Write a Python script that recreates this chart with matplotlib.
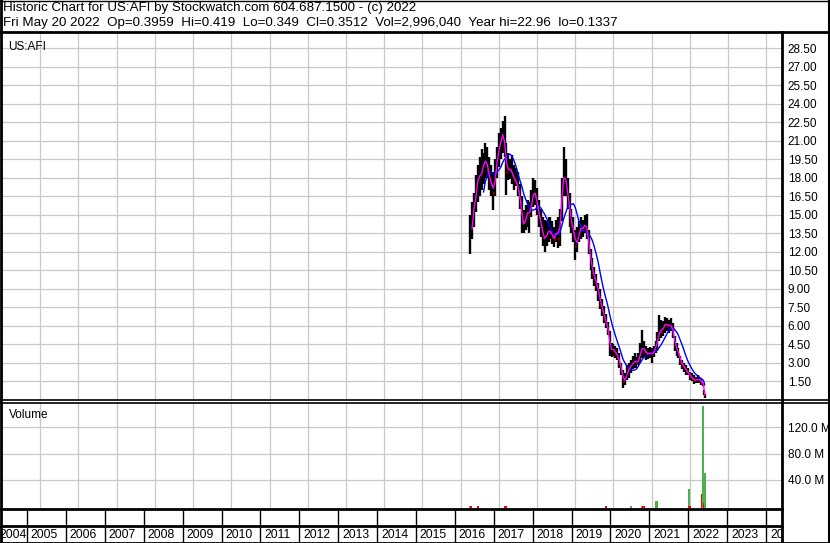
"""
Historic price / volume chart for US:AFI (Stockwatch style).
"""
import numpy as np
import pandas as pd
import matplotlib
matplotlib.use('Agg')
import matplotlib.pyplot as plt
from matplotlib.lines import Line2D

plt.rcParams['font.family'] = ['Liberation Sans', 'DejaVu Sans']

W, H = 830, 543

title_line = "Historic Chart for US:AFI by Stockwatch.com 604.687.1500 - (c) 2022"
info_line = ("Fri May 20 2022  Op=0.3959  Hi=0.419  Lo=0.349  Cl=0.3512  "
             "Vol=2,996,040  Year hi=22.96  lo=0.1337")
symbol = "US:AFI"

# price bars, one every 0.05 yr starting 2016.25
bar_start, bar_step = 2016.25, 0.05
highs = [15.0, 16.0, 16.8, 18.2, 19.0, 19.7, 20.3, 20.0, 20.8, 20.5,
         19.7, 19.0, 18.5, 19.5, 20.5, 21.6, 22.0, 22.6, 23.0, 20.8,
         20.0, 19.5, 19.8, 19.0, 18.8, 18.5, 17.5, 16.5, 15.4, 15.8,
         16.2, 16.0, 17.0, 18.0, 17.8, 17.2, 16.2, 15.5, 14.8, 14.6,
         14.5, 14.8, 14.8, 14.5, 14.0, 14.6, 14.8, 15.5, 18.0, 20.5,
         19.5, 18.0, 16.8, 15.5, 14.8, 13.8, 14.0, 14.5, 14.8, 14.6,
         15.0, 15.1, 13.8, 12.2, 11.5, 10.8, 10.2, 9.5, 9.0, 8.2,
         7.6, 7.0, 6.3, 5.6, 4.6, 4.5, 4.4, 4.2, 3.8, 3.0,
         2.4, 2.2, 2.8, 3.0, 3.2, 3.6, 3.8, 3.5, 3.8, 4.6,
         5.7, 4.8, 4.4, 4.2, 4.3, 4.2, 4.4, 4.8, 5.5, 6.9,
         6.5, 6.4, 6.7, 6.6, 6.5, 6.6, 6.2, 5.2, 4.6, 4.2,
         3.6, 3.2, 3.0, 2.8, 2.6, 2.3, 2.2, 2.0, 1.9, 2.0,
         1.9, 1.7, 1.4]
lows = [11.8, 13.0, 14.0, 15.2, 16.0, 16.5, 17.0, 17.5, 18.0, 18.0,
        17.0, 16.5, 15.4, 16.5, 18.0, 18.9, 19.5, 20.0, 19.7, 16.6,
        17.8, 17.9, 17.5, 17.0, 17.3, 16.5, 15.5, 13.5, 13.5, 13.8,
        14.0, 13.5, 14.8, 15.6, 15.8, 15.0, 14.0, 13.2, 12.5, 12.0,
        12.5, 12.8, 13.0, 12.6, 12.4, 12.8, 12.3, 12.5, 14.5, 16.5,
        16.5, 15.5, 14.0, 13.5, 12.8, 11.3, 12.0, 12.8, 13.0, 13.2,
        13.5, 13.0, 11.8, 10.5, 9.8, 9.2, 8.8, 8.0, 7.4, 6.8,
        6.2, 5.8, 5.3, 3.6, 3.5, 3.6, 3.4, 3.2, 2.6, 2.0,
        1.0, 1.2, 1.6, 1.8, 2.2, 2.5, 2.6, 2.6, 2.8, 3.0,
        3.4, 3.5, 3.2, 3.3, 3.4, 3.0, 3.5, 3.8, 4.0, 4.8,
        5.0, 5.2, 5.4, 5.6, 5.4, 5.6, 5.0, 4.0, 3.6, 3.4,
        2.8, 2.5, 2.3, 2.0, 2.0, 1.6, 1.5, 1.3, 1.4, 1.4,
        1.4, 1.2, 1.1]
closes = [12.5, 15.2, 15.8, 17.0, 18.5, 17.8, 18.8, 19.2, 19.5, 18.6,
          17.8, 17.5, 16.8, 18.5, 19.8, 20.5, 21.2, 21.8, 20.0, 18.5,
          18.8, 18.6, 18.2, 17.8, 17.6, 17.0, 16.0, 14.5, 14.0, 15.0,
          15.3, 15.0, 16.2, 17.0, 16.5, 15.6, 14.8, 14.0, 13.2, 13.0,
          13.5, 13.8, 13.5, 13.2, 13.0, 14.0, 13.0, 15.0, 17.5, 18.5,
          17.2, 16.5, 14.8, 14.2, 13.5, 12.5, 13.0, 13.8, 14.0, 13.8,
          14.5, 13.5, 12.2, 11.0, 10.3, 9.8, 9.3, 8.6, 7.8, 7.3,
          6.6, 6.2, 5.6, 4.0, 4.2, 4.0, 3.8, 3.5, 3.0, 2.3,
          1.5, 1.7, 2.3, 2.6, 2.8, 3.0, 3.2, 3.0, 3.3, 4.0,
          4.3, 4.0, 3.8, 3.7, 3.9, 3.6, 4.0, 4.4, 5.0, 5.8,
          5.5, 6.0, 6.2, 6.0, 6.1, 6.0, 5.4, 4.4, 4.0, 3.7,
          3.0, 2.8, 2.6, 2.3, 2.2, 1.9, 1.8, 1.6, 1.6, 1.7,
          1.6, 1.4, 1.2]
# the May 2022 collapse
crash_dates = [2022.37, 2022.385]
crash_highs = [0.8, 0.45]
crash_lows = [0.4, 0.13]
crash_closes = [0.5, 0.35]

# volume in millions of shares
vol_dates = [2016.26, 2016.27, 2016.45, 2017.18, 2019.81, 2020.46, 2020.76,
             2020.78, 2021.126, 2021.975, 2021.99, 2022.32, 2022.347,
             2022.365, 2022.39]
vol_values = [0.4, 0.4, 0.4, 0.4, 0.4, 0.4, 0.4,
              0.4, 8.6, 26.0, 0.6, 19.0, 152.0,
              5.0, 51.0]
vol_up = [True, False, False, False, False, True, True,
          False, True, True, False, False, True,
          False, True]

years = list(range(2004, 2025))
price_ticks = np.arange(1.5, 28.6, 1.5)
vol_ticks = [40, 80, 120]
vol_tick_labels = ['40.0 M', '80.0 M', '120.0 M']

# ---------------------------------------------------------------------------
dates = np.concatenate([bar_start + bar_step * np.arange(len(closes)), crash_dates])
hi = np.array(highs + crash_highs)
lo = np.array(lows + crash_lows)
cl = np.array(closes + crash_closes)
ma_fast = pd.Series(cl).rolling(2).mean()
ma_slow = pd.Series(cl).rolling(8).mean()
down = np.r_[False, cl[1:] < cl[:-1]]

XMIN, XMAX = 2004.357, 2024.409
GRID = '#c8c8c8'


def px_axes(x0, y0, x1, y1):
    return fig.add_axes([x0 / W, 1 - y1 / H, (x1 - x0) / W, (y1 - y0) / H])


def fig_line(x0, y0, x1, y1, lw=1.0):
    fig.add_artist(Line2D([x0 / W, x1 / W], [1 - y0 / H, 1 - y1 / H],
                          transform=fig.transFigure, color='black', lw=lw))


fig = plt.figure(figsize=(W / 100, H / 100), dpi=100)

# price panel
ax_p = px_axes(2, 32, 782, 400)
ax_p.set_xlim(XMIN, XMAX)
ax_p.set_ylim(0, 29.8)
ax_p.set_xticks(years)
ax_p.set_yticks(price_ticks)
ax_p.grid(True, color=GRID, lw=0.9)
ax_p.set_axisbelow(True)
ax_p.tick_params(axis='x', length=0, labelbottom=False)
ax_p.yaxis.tick_right()
ax_p.tick_params(axis='y', length=0, pad=4, labelsize=8.5)
ax_p.set_yticklabels([f'{v:.2f}' for v in price_ticks])
ax_p.vlines(dates, lo, hi, color='black', lw=1.7)
ax_p.hlines(cl[down], dates[down], dates[down] + 0.02, color='red', lw=1.8)
ax_p.plot(dates, ma_slow, color='#0000ff', lw=1.0)
ax_p.plot(dates, ma_fast, color='#ff00ff', lw=1.0)
ax_p.text(0.008, 0.975, symbol, transform=ax_p.transAxes, fontsize=8.5,
          va='top', ha='left')

# volume panel
vbase = -4
ax_v = px_axes(2, 402, 782, 509)
ax_v.set_xlim(XMIN, XMAX)
ax_v.set_ylim(vbase, 158)
ax_v.set_xticks(years)
ax_v.set_yticks(vol_ticks)
ax_v.set_yticklabels(vol_tick_labels)
ax_v.grid(True, color=GRID, lw=0.9)
ax_v.set_axisbelow(True)
ax_v.tick_params(axis='x', length=0, labelbottom=False)
ax_v.yaxis.tick_right()
ax_v.tick_params(axis='y', length=0, pad=4, labelsize=8.5)
vcol = ['#4cb04c' if u else '#ff0000' for u in vol_up]
ax_v.bar(vol_dates, np.array(vol_values) - vbase, bottom=vbase, width=0.065,
         color=vcol, lw=0)
ax_v.text(0.009, 0.93, 'Volume', transform=ax_v.transAxes, fontsize=8.5,
          va='top', ha='left')

# empty strip and year-label row
ax_s = px_axes(2, 509, 782, 526)
ax_y = px_axes(2, 526, 782, 543)
for ax in (ax_s, ax_y):
    ax.set_xlim(XMIN, XMAX)
    ax.set_ylim(0, 1)
    ax.set_xticks([])
    ax.set_yticks([])
    ax.vlines(years, 0, 1, color='black', lw=1.0)
for y in years:
    ax_y.text(max(y + 0.1, XMIN - 0.06), 0.45, str(y), fontsize=8.7,
              va='center', ha='left', clip_on=True)

for ax in (ax_p, ax_v, ax_s, ax_y):
    for s in ax.spines.values():
        s.set_visible(False)

# frame lines
fig_line(1, 0, 1, H, lw=2.0)
fig_line(W - 1, 0, W - 1, H, lw=1.5)
fig_line(0, 0.5, W, 0.5, lw=1.0)
fig_line(0, H - 0.5, W, H - 0.5, lw=2.0)
fig_line(0, 31.5, W, 31.5, lw=2.0)
fig_line(782, 32, 782, H, lw=2.0)
fig_line(0, 400, W, 400, lw=1.2)
fig_line(0, 403, W, 403, lw=1.2)
fig_line(0, 509, 782, 509, lw=2.0)
fig_line(0, 526, 782, 526, lw=2.0)

fig.text(3 / W, 1 - 8 / H, title_line, fontsize=9.6, va='center', ha='left')
fig.text(3 / W, 1 - 23 / H, info_line, fontsize=9.6, va='center', ha='left')

fig.savefig('out.png', dpi=100)
